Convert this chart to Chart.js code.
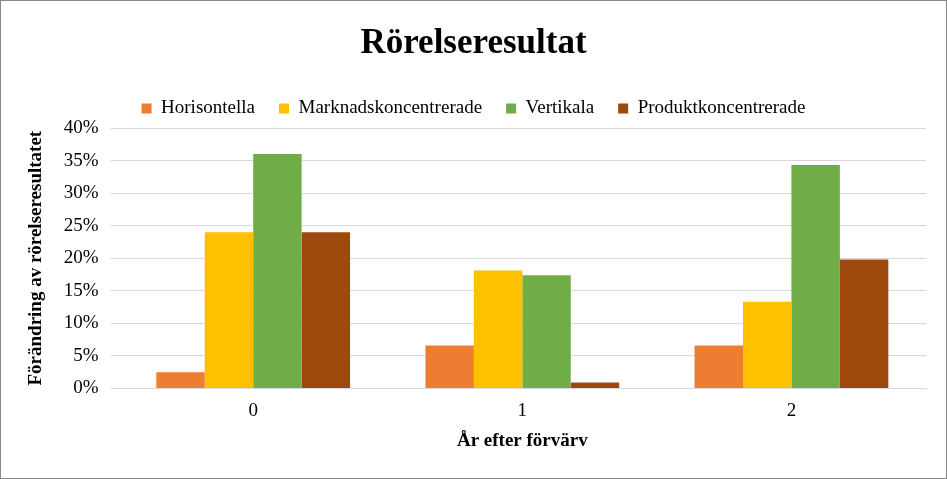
<!DOCTYPE html>
<html>
<head>
<meta charset="utf-8">
<script src="https://cdn.jsdelivr.net/npm/chart.js@4"></script>
<style>
  html, body { margin: 0; padding: 0; background: #fff; }
  #wrap { width: 945px; height: 477px; border: 1px solid #888; }
</style>
</head>
<body>
<div id="wrap"><canvas id="my-chart" width="945" height="477"></canvas></div>
<script>
'use strict'

let years = ['0', '1', '2'];
let horisontella = [2.5, 6.6, 6.6];
let marknadskoncentrerade = [24, 18.1, 13.3];
let vertikala = [36, 17.4, 34.3];
let produktkoncentrerade = [24, 0.9, 19.8];

let serif = "'Liberation Serif', 'DejaVu Serif', serif";
Chart.defaults.font.family = serif;
Chart.defaults.color = '#000';

let chartContext = document.getElementById('my-chart').getContext('2d');

let chartConfig = {
  type: 'bar',
  data: {
    labels: years,
    datasets: [
      { label: 'Horisontella', data: horisontella, backgroundColor: '#ED7D31' },
      { label: 'Marknadskoncentrerade', data: marknadskoncentrerade, backgroundColor: '#FFC000' },
      { label: 'Vertikala', data: vertikala, backgroundColor: '#70AD47' },
      { label: 'Produktkoncentrerade', data: produktkoncentrerade, backgroundColor: '#9E480E' },
    ],
  },
  options: {
    responsive: false,
    animation: false,
    layout: { padding: { left: 20, right: 20, top: 18, bottom: 22 } },
    datasets: { bar: { categoryPercentage: 0.72, barPercentage: 1 } },
    plugins: {
      title: {
        display: true,
        text: 'Rörelseresultat',
        font: { size: 35, weight: 'bold' },
        padding: { top: 4, bottom: 10 },
      },
      legend: {
        labels: { boxWidth: 10, boxHeight: 10, font: { size: 19 }, padding: 24 },
      },
      tooltip: { enabled: false },
    },
    scales: {
      x: {
        grid: { display: false },
        border: { color: '#d9d9d9' },
        ticks: { font: { size: 19 } },
        title: { display: true, text: 'År efter förvärv', font: { size: 19, weight: 'bold' } },
      },
      y: {
        min: 0,
        max: 40,
        ticks: { stepSize: 5, font: { size: 19 }, padding: 12, callback: v => v + '%' },
        grid: { color: '#d9d9d9' },
        border: { display: false },
        title: { display: true, text: 'Förändring av rörelseresultatet', font: { size: 19, weight: 'bold' } },
      },
    },
  },
};
let myChart = new Chart(chartContext, chartConfig);
</script>
</body>
</html>
